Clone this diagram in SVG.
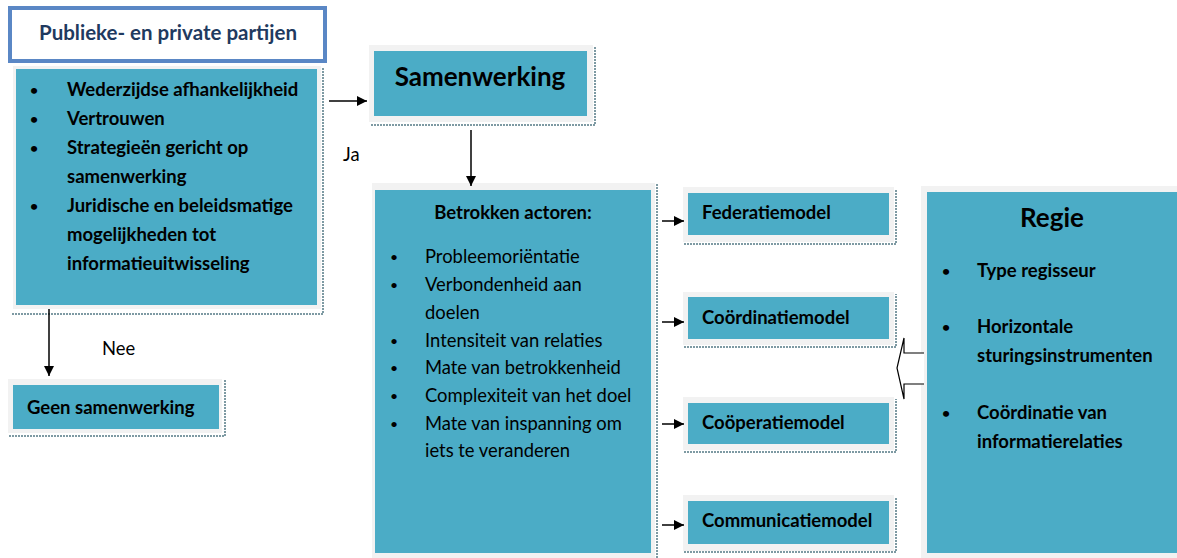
<svg xmlns="http://www.w3.org/2000/svg" width="1177" height="558" viewBox="0 0 1177 558">
<defs>
<marker id="ah" viewBox="0 0 10 10" refX="10" refY="5" markerWidth="10" markerHeight="10" markerUnits="userSpaceOnUse" orient="auto">
<path d="M0,0 L10,5 L0,10 Z" fill="#000"/>
</marker>
<style>
.frame{fill:#F2F2F2}
.teal{fill:#4BACC6}
.shadow{stroke:#7E9AA3;stroke-width:2;stroke-dasharray:2 1;fill:none}
.b{font-family:Lato,"Open Sans",sans-serif;font-weight:bold;font-size:18.5px;fill:#000}
.r{font-family:Lato,"Open Sans",sans-serif;font-size:18.4px;fill:#000}
.big{font-family:Lato,"Open Sans",sans-serif;font-weight:bold;font-size:26px;fill:#000}
.bul{font-size:14px}
.con{stroke:#000;stroke-width:1.5;fill:none}
</style>
</defs>
<rect width="1177" height="558" fill="#fff"/>

<g id="publieke">
<rect x="10" y="8" width="315" height="53" fill="#fff" stroke="#5A87C5" stroke-width="4"/>
<text x="168" y="40" text-anchor="middle" class="b" style="fill:#1F3A60;font-size:20.5px">Publieke- en private partijen</text>
</g>

<g id="kenmerken">
<path class="shadow" d="M12,314 H323 V67"/>
<rect class="frame" x="13" y="66" width="308" height="243"/>
<rect class="teal" x="16" y="69" width="301" height="236"/>
<g class="b">
<text x="30" y="95" class="bul">•</text><text x="67" y="96">Wederzijdse afhankelijkheid</text>
<text x="30" y="124" class="bul">•</text><text x="67" y="125">Vertrouwen</text>
<text x="30" y="153" class="bul">•</text><text x="67" y="154">Strategieën gericht op</text>
<text x="67" y="183">samenwerking</text>
<text x="30" y="211" class="bul">•</text><text x="67" y="212">Juridische en beleidsmatige</text>
<text x="67" y="241">mogelijkheden tot</text>
<text x="67" y="270">informatieuitwisseling</text>
</g>
</g>

<g id="samenwerking">
<path class="shadow" d="M371,125 H595 V47"/>
<rect class="frame" x="369" y="45" width="224" height="77"/>
<rect class="teal" x="374" y="51" width="213" height="65"/>
<text x="480" y="86" text-anchor="middle" class="big">Samenwerking</text>
</g>

<g id="geen">
<path class="shadow" d="M9,436 H225 V380"/>
<rect class="frame" x="8" y="379" width="214" height="54"/>
<rect class="teal" x="13" y="385" width="206" height="44"/>
<text x="27" y="414" class="b">Geen samenwerking</text>
</g>

<g id="betrokken">
<path class="shadow" d="M657,184 V558"/>
<rect class="frame" x="372" y="183" width="283" height="375"/>
<rect class="teal" x="375" y="190" width="276" height="363"/>
<text x="513" y="219" text-anchor="middle" class="b">Betrokken actoren:</text>
<g class="r">
<text x="390" y="262" class="bul">•</text><text x="425" y="263">Probleemoriëntatie</text>
<text x="390" y="290" class="bul">•</text><text x="425" y="291">Verbondenheid aan</text>
<text x="425" y="319">doelen</text>
<text x="390" y="346" class="bul">•</text><text x="425" y="347">Intensiteit van relaties</text>
<text x="390" y="373" class="bul">•</text><text x="425" y="374">Mate van betrokkenheid</text>
<text x="390" y="401" class="bul">•</text><text x="425" y="402">Complexiteit van het doel</text>
<text x="390" y="429" class="bul">•</text><text x="425" y="430">Mate van inspanning om</text>
<text x="425" y="457">iets te veranderen</text>
</g>
</g>

<g id="federatiemodel">
<path class="shadow" d="M684,244 H896 V189"/>
<rect class="frame" x="683" y="187" width="211" height="55"/>
<rect class="teal" x="688" y="193" width="201" height="42"/>
<text x="702" y="219" class="b">Federatiemodel</text>
</g>
<g id="coordinatiemodel">
<path class="shadow" d="M684,347 H896 V294"/>
<rect class="frame" x="683" y="292" width="211" height="53"/>
<rect class="teal" x="688" y="297" width="201" height="42"/>
<text x="702" y="324" class="b">Coördinatiemodel</text>
</g>
<g id="cooperatiemodel">
<path class="shadow" d="M684,452 H896 V399"/>
<rect class="frame" x="683" y="397" width="211" height="53"/>
<rect class="teal" x="688" y="403" width="201" height="41"/>
<text x="702" y="429" class="b">Coöperatiemodel</text>
</g>
<g id="communicatiemodel">
<path class="shadow" d="M684,552 H896 V497"/>
<rect class="frame" x="683" y="495" width="211" height="56"/>
<rect class="teal" x="688" y="501" width="201" height="43"/>
<text x="702" y="527" class="b">Communicatiemodel</text>
</g>

<g id="regie">
<rect class="frame" x="921" y="186" width="256" height="372"/>
<rect class="teal" x="927" y="192" width="250" height="361"/>
<text x="1052" y="227" text-anchor="middle" class="big">Regie</text>
<g class="b">
<text x="942" y="276" class="bul">•</text><text x="977" y="277">Type regisseur</text>
<text x="942" y="332" class="bul">•</text><text x="977" y="333">Horizontale</text>
<text x="977" y="362">sturingsinstrumenten</text>
<text x="942" y="418" class="bul">•</text><text x="977" y="419">Coördinatie van</text>
<text x="977" y="448">informatierelaties</text>
</g>
</g>

<g id="connectors">
<line class="con" x1="329" y1="101" x2="367" y2="101" marker-end="url(#ah)"/>
<line class="con" x1="471" y1="130" x2="471" y2="186" marker-end="url(#ah)"/>
<line class="con" x1="49" y1="309" x2="49" y2="376" marker-end="url(#ah)"/>
<line class="con" x1="662" y1="221" x2="684" y2="221" marker-end="url(#ah)"/>
<line class="con" x1="662" y1="322" x2="684" y2="322" marker-end="url(#ah)"/>
<line class="con" x1="662" y1="424" x2="684" y2="424" marker-end="url(#ah)"/>
<line class="con" x1="662" y1="525" x2="684" y2="525" marker-end="url(#ah)"/>
<path d="M924,353 H904 V338 L897,368 L904,399 V384 H924" fill="#fff" stroke="#000" stroke-width="1.2"/>
<text x="343" y="161" class="r">Ja</text>
<text x="102" y="355" class="r">Nee</text>
</g>
</svg>
